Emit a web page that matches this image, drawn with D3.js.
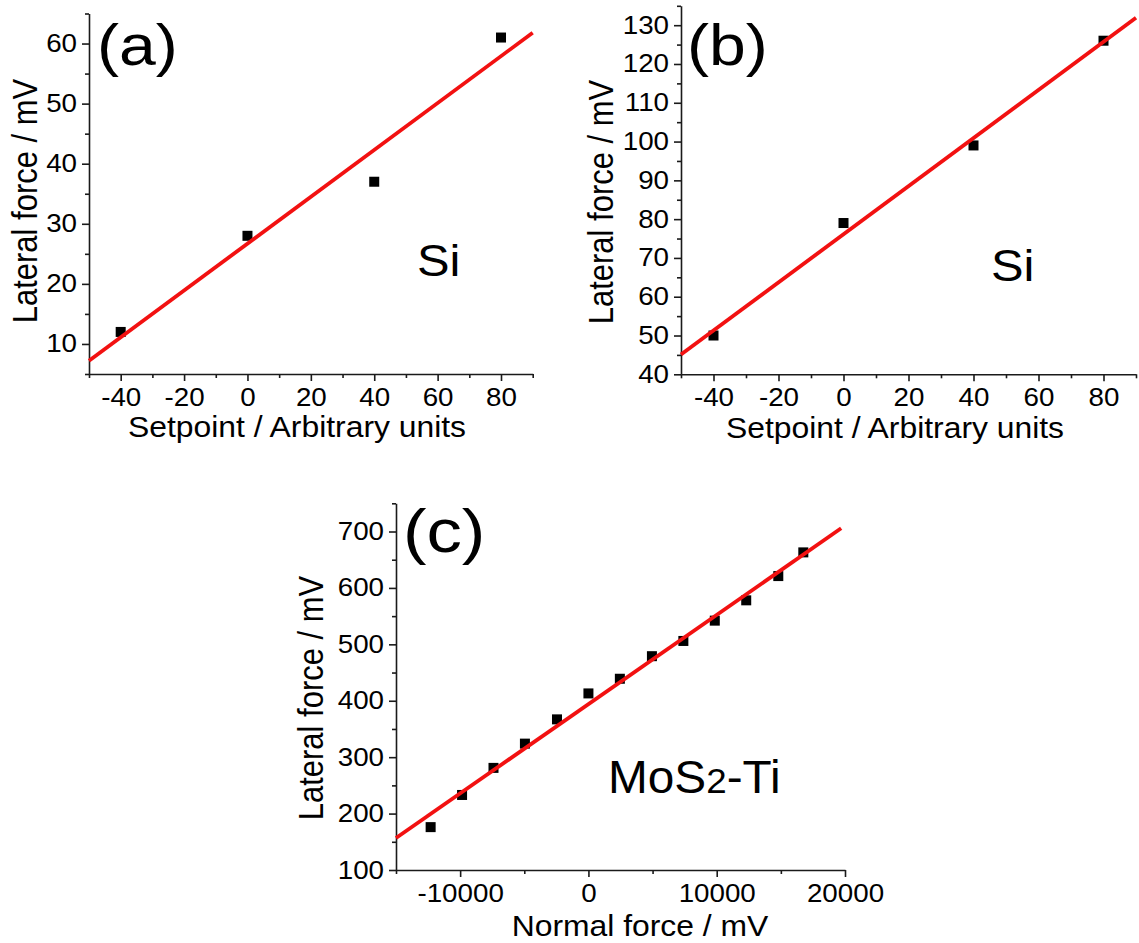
<!DOCTYPE html>
<html>
<head>
<meta charset="utf-8">
<script src="https://cdn.jsdelivr.net/npm/d3@7"></script>
<style>
  html, body { margin: 0; padding: 0; background: #fff; }
  svg { display: block; }
  text { font-family: "Liberation Sans", Arial, "DejaVu Sans", sans-serif; fill: #000; }
</style>
</head>
<body>
<svg id="fig" width="1139" height="943"></svg>
<script>
// ---- data ----
const setpointA = [-40, 0, 40, 80];
const lateralA  = [12, 28, 37, 61];

const setpointB = [-40, 0, 40, 80];
const lateralB  = [50, 79, 99, 126];

const normalC  = [-12300, -9850, -7400, -4950, -2450, 0, 2450, 4950, 7400, 9850, 12300, 14800, 16750];
const lateralC = [176, 233, 281, 324, 367, 413, 439, 479, 506, 542, 578, 621, 663];

// ---- tick labels ----
const xTicksAB = [-40, -20, 0, 20, 40, 60, 80];
const xMinorAB = [-50, -30, -10, 10, 30, 50, 70, 90];
const yTicksA  = [10, 20, 30, 40, 50, 60];
const yMinorA  = [5, 15, 25, 35, 45, 55, 65];
const yTicksB  = [40, 50, 60, 70, 80, 90, 100, 110, 120, 130];
const yMinorB  = [45, 55, 65, 75, 85, 95, 105, 115, 125, 135];
const xTicksC  = [-10000, 0, 10000, 20000];
const xMinorC  = [-15000, -5000, 5000, 15000];
const yTicksC  = [100, 200, 300, 400, 500, 600, 700];
const yMinorC  = [150, 250, 350, 450, 550, 650, 750];

const svg = d3.select("#fig");
const fmt = d => (d < 0 ? "-" + Math.abs(d) : String(d));
const WIDE = 1.11;   // glyphs are set slightly wide throughout the figure

// least-squares straight line through a series
function linearFit(xs, ys) {
  const mx = d3.mean(xs), my = d3.mean(ys);
  let sxy = 0, sxx = 0;
  xs.forEach((xv, i) => {
    sxy += (xv - mx) * (ys[i] - my);
    sxx += (xv - mx) * (xv - mx);
  });
  const slope = sxy / sxx;
  return { slope, intercept: my - slope * mx };
}

// horizontal label, widened about its anchor point
function label(parent, x, y, size, str, sx, anchor) {
  return parent.append("text")
    .attr("transform", `translate(${x},${y}) scale(${sx},1)`)
    .attr("text-anchor", anchor || "start")
    .style("font-size", size + "px")
    .text(str);
}

function drawPanel(cfg) {
  const g = svg.append("g");
  const x = d3.scaleLinear().domain(cfg.xDomain).range([cfg.left, cfg.right]);
  const y = d3.scaleLinear().domain(cfg.yDomain).range([cfg.bottom, cfg.top]);

  // minor ticks
  g.append("g")
    .attr("transform", `translate(0,${cfg.bottom})`)
    .call(d3.axisBottom(x).tickValues(cfg.xMinor).tickSize(4).tickSizeOuter(0).tickFormat(""))
    .call(s => s.select(".domain").remove());
  g.append("g")
    .attr("transform", `translate(${cfg.left},0)`)
    .call(d3.axisLeft(y).tickValues(cfg.yMinor).tickSize(4).tickSizeOuter(0).tickFormat(""))
    .call(s => s.select(".domain").remove());

  // major axes
  const xa = g.append("g")
    .attr("transform", `translate(0,${cfg.bottom})`)
    .call(d3.axisBottom(x).tickValues(cfg.xTicks).tickSize(7).tickSizeOuter(0).tickPadding(7).tickFormat(fmt));
  const ya = g.append("g")
    .attr("transform", `translate(${cfg.left},0)`)
    .call(d3.axisLeft(y).tickValues(cfg.yTicks).tickSize(7).tickSizeOuter(0).tickPadding(5).tickFormat(fmt));

  xa.selectAll("text")
    .style("font-size", "25px").attr("fill", "#000")
    .attr("transform", `scale(${WIDE},1)`);
  ya.selectAll("text")
    .style("font-size", "25px").attr("fill", "#000")
    .attr("x", 0)
    .attr("transform", `translate(-12,0) scale(${WIDE},1)`);
  g.selectAll(".domain, .tick line").attr("stroke", "#1a1a1a").attr("stroke-width", 1.6);

  // data points
  g.append("g").selectAll("rect")
    .data(cfg.xs.map((v, i) => [v, cfg.ys[i]]))
    .join("rect")
    .attr("x", d => x(d[0]) - 5)
    .attr("y", d => y(d[1]) - 5)
    .attr("width", 10)
    .attr("height", 10)
    .attr("fill", "#000");

  // linear fit
  const fit = linearFit(cfg.xs, cfg.ys);
  g.append("path")
    .datum(cfg.fitRange)
    .attr("fill", "none")
    .attr("stroke", "#f21111")
    .attr("stroke-width", 3.8)
    .attr("d", d3.line().x(d => x(d)).y(d => y(fit.intercept + fit.slope * d)));

  // axis titles
  label(g, cfg.xTitlePos[0], cfg.xTitlePos[1], 29.5, cfg.xTitle, 1.08, "middle");
  g.append("text")
    .attr("transform", `translate(${cfg.yTitlePos[0]},${cfg.yTitlePos[1]}) scale(${WIDE},1) rotate(-90)`)
    .attr("text-anchor", "middle")
    .style("font-size", "31px")
    .text(cfg.yTitle);

  // panel letter
  label(g, cfg.tagPos[0], cfg.tagPos[1], cfg.tagSize, cfg.tag, 1.14);

  return g;
}

const ga = drawPanel({
  left: 89, right: 532.7, top: 13.5, bottom: 374,
  xDomain: [-50, 90], yDomain: [5, 65],
  xTicks: xTicksAB, xMinor: xMinorAB, yTicks: yTicksA, yMinor: yMinorA,
  xs: setpointA, ys: lateralA, fitRange: [-50, 90],
  xTitle: "Setpoint / Arbitrary units", xTitlePos: [297, 437],
  yTitle: "Lateral force / mV", yTitlePos: [37, 201],
  tag: "(a)", tagPos: [97, 65], tagSize: 58
});
label(ga, 417, 276, 44, "Si", WIDE);

const gb = drawPanel({
  left: 681, right: 1136, top: 5.8, bottom: 374.3,
  xDomain: [-50, 90], yDomain: [40, 135],
  xTicks: xTicksAB, xMinor: xMinorAB, yTicks: yTicksB, yMinor: yMinorB,
  xs: setpointB, ys: lateralB, fitRange: [-50, 90],
  xTitle: "Setpoint / Arbitrary units", xTitlePos: [895, 438],
  yTitle: "Lateral force / mV", yTitlePos: [613, 202],
  tag: "(b)", tagPos: [687, 65], tagSize: 58
});
label(gb, 991, 281, 44, "Si", WIDE);

const gc = drawPanel({
  left: 396, right: 845, top: 503.3, bottom: 870,
  xDomain: [-15000, 20000], yDomain: [100, 750],
  xTicks: xTicksC, xMinor: xMinorC, yTicks: yTicksC, yMinor: yMinorC,
  xs: normalC, ys: lateralC, fitRange: [-15000, 19700],
  xTitle: "Normal force / mV", xTitlePos: [640, 936],
  yTitle: "Lateral force / mV", yTitlePos: [323, 698],
  tag: "(c)", tagPos: [403, 552], tagSize: 62
});
const mos = label(gc, 608, 793, 45.5, "", 1.05);
mos.append("tspan").text("MoS");
mos.append("tspan").style("font-size", "35px").text("2");
mos.append("tspan").text("-Ti");
</script>
</body>
</html>
